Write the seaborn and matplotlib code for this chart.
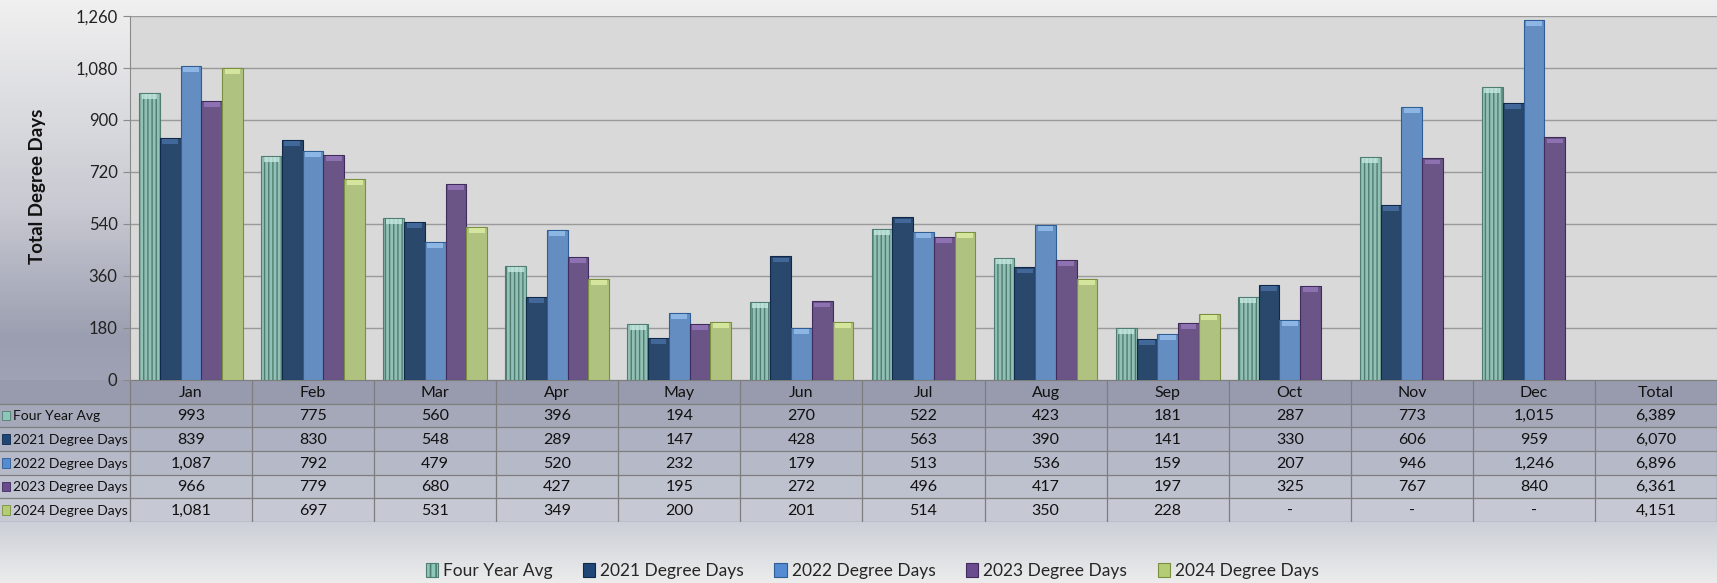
import numpy as np
import pandas as pd
import matplotlib
matplotlib.use('Agg')
import matplotlib.pyplot as plt
from matplotlib.patches import Rectangle
import seaborn as sns

sns.set_style('white')
plt.rcParams['font.family'] = ['Lato', 'DejaVu Sans']

# ---- data ----
months = ['Jan', 'Feb', 'Mar', 'Apr', 'May', 'Jun', 'Jul', 'Aug', 'Sep', 'Oct', 'Nov', 'Dec']
columns = months + ['Total']
series = ['Four Year Avg', '2021 Degree Days', '2022 Degree Days', '2023 Degree Days', '2024 Degree Days']
four_year_avg = [993, 775, 560, 396, 194, 270, 522, 423, 181, 287, 773, 1015]
dd_2021 = [839, 830, 548, 289, 147, 428, 563, 390, 141, 330, 606, 959]
dd_2022 = [1087, 792, 479, 520, 232, 179, 513, 536, 159, 207, 946, 1246]
dd_2023 = [966, 779, 680, 427, 195, 272, 496, 417, 197, 325, 767, 840]
dd_2024 = [1081, 697, 531, 349, 200, 201, 514, 350, 228, np.nan, np.nan, np.nan]
yticks = [0, 180, 360, 540, 720, 900, 1080, 1260]

colors = ['#8cc7b9', '#1f4677', '#558bd0', '#6a4c8e', '#b4cd74']
edges = ['#4f7d72', '#10284a', '#2f5d96', '#3f2b5c', '#7a8f40']
caps = ['#c9ece4', '#4a74a8', '#9cc4f0', '#9a7cc0', '#e2f2a8']

values = [four_year_avg, dd_2021, dd_2022, dd_2023, dd_2024]
df = pd.DataFrame([(m, s, v) for s, vals in zip(series, values) for m, v in zip(months, vals)],
                  columns=['month', 'series', 'value']).dropna()

W, H = 1717, 583
fig = plt.figure(figsize=(W / 100, H / 100), dpi=100)

# background gradient
bg = fig.add_axes([0, 0, 1, 1], zorder=-10)
stops = [0.0, 0.35, 0.58, 0.68, 0.9, 1.0]
cols = ['#f0f0f0', '#c9cad2', '#9a9eb0', '#a0a4b6', '#cdd0d8', '#ececec']
rgb = np.array([matplotlib.colors.to_rgb(c) for c in cols])
yy = np.linspace(0, 1, 400)
grad = np.stack([np.interp(yy, stops, rgb[:, i]) for i in range(3)], axis=-1)[:, None, :]
bg.imshow(grad, aspect='auto', extent=[0, 1, 1, 0])
bg.set_xlim(0, 1); bg.set_ylim(1, 0)
bg.axis('off')

# main plot
left = 130 / W
ax = fig.add_axes([left, (H - 380) / H, 1 - left, (380 - 16) / H], zorder=2)
ax.set_facecolor('#d9d9d9')
sns.barplot(data=df, x='month', y='value', hue='series', order=columns, hue_order=series,
            palette=colors, width=0.85, gap=0, errorbar=None, legend=False, ax=ax, zorder=3)
plt.rcParams['hatch.color'] = '#4f7d72'
plt.rcParams['hatch.linewidth'] = 1.2
cap_h = 1260 * 6 / 364
for i, (cont, ec, cc) in enumerate(zip(ax.containers, edges, caps)):
    for p in cont:
        p.set_edgecolor(ec)
        p.set_linewidth(0.8)
        if i == 0:
            p.set_hatch('||||')
        # glossy top bevel
        ax.add_patch(Rectangle((p.get_x() + p.get_width() * 0.12, p.get_height() - cap_h),
                               p.get_width() * 0.76, cap_h * 0.8, facecolor=cc, edgecolor='none',
                               alpha=0.75, zorder=4))

ax.set_xlim(-0.5, 12.5)
ax.set_ylim(0, 1260)
ax.set_yticks(yticks)
ax.set_yticklabels([f'{t:,}' for t in yticks], fontsize=12, color='#222222')
ax.yaxis.grid(True, color='#9a9a9a', linewidth=1, zorder=0)
ax.set_axisbelow(True)
ax.set_xticks([])
ax.set_xlabel('')
ax.set_ylabel('')
ax.tick_params(axis='y', length=5, color='#8a8a8a', pad=4, left=True)
for s in ['top', 'right', 'bottom']:
    ax.spines[s].set_visible(False)
ax.spines['left'].set_color('#8a8a8a')
fig.text(38 / W, 1 - 186 / H, 'Total Degree Days', rotation=90, ha='center', va='center',
         fontsize=13.5, fontweight='bold', color='#111111')

# data table
tab = fig.add_axes([0, (H - 522) / H, 1, (522 - 380) / H], zorder=1)
x0 = -0.5 - 130 * 13 / (W - 130)
tab.set_xlim(x0, 12.5)
tab.set_ylim(6, 0)
tab.axis('off')
tcols = ['#979bad', '#a4a8b9', '#adb1c1', '#b6b9c8', '#bec1ce', '#c6c9d4']
for r in range(6):
    tab.add_patch(Rectangle((x0, r), 12.5 - x0, 1, facecolor=tcols[r], edgecolor='none'))
for r in range(7):
    tab.plot([x0 if r > 0 else -0.5, 12.5], [r, r], color='#7e7e7e', lw=0.9)
for k in range(14):
    tab.plot([k - 0.5, k - 0.5], [0, 6], color='#7e7e7e', lw=0.9)
fs = 11.5
for k, c in enumerate(columns):
    tab.text(k, 0.55, c, ha='center', va='center', fontsize=fs, color='#111111')
kw = 8 * 13 / (W - 130)
for r, (s, vals, c, ec) in enumerate(zip(series, values, colors, edges), start=1):
    tab.add_patch(Rectangle((x0 + 0.02, r + 0.3), kw, 0.4, facecolor=c, edgecolor=ec, lw=0.6))
    tab.text(x0 + 0.02 + kw + 0.02, r + 0.53, s, ha='left', va='center', fontsize=10, color='#111111')
    row = [f'{v:,.0f}' if not np.isnan(v) else '-' for v in vals] + [f'{np.nansum(vals):,.0f}']
    for k, t in enumerate(row):
        tab.text(k, r + 0.53, t, ha='center', va='center', fontsize=fs, color='#111111')

# legend
handles = [Rectangle((0, 0), 1, 1, facecolor=c, edgecolor=ec, lw=0.8) for c, ec in zip(colors, edges)]
handles[0].set_hatch('|||')
fig.legend(handles, series, loc='center', bbox_to_anchor=(0.508, 1 - 571 / H), ncol=5, frameon=False,
           fontsize=12.5, handlelength=0.7, handleheight=0.9, handletextpad=0.3, columnspacing=1.75)

fig.savefig('out.png', dpi=100)
